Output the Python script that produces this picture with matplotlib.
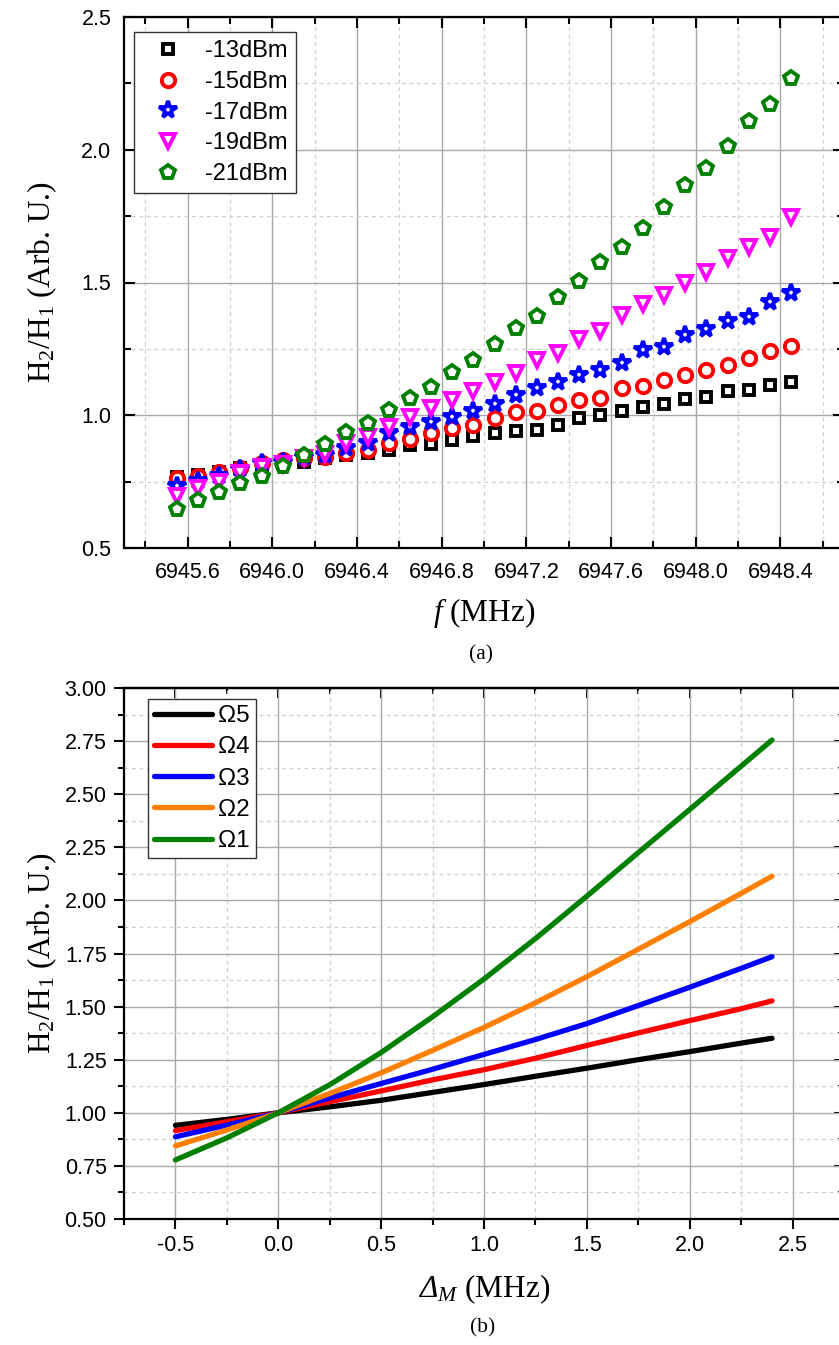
import matplotlib
matplotlib.use("Agg")
import matplotlib.pyplot as plt
from matplotlib.ticker import MultipleLocator, FormatStrFormatter

plt.rcParams['font.family'] = ['Liberation Sans', 'DejaVu Sans']
plt.rcParams['axes.unicode_minus'] = False
plt.rcParams['mathtext.fontset'] = 'custom'
plt.rcParams['mathtext.rm'] = 'Liberation Serif'
plt.rcParams['mathtext.it'] = 'Liberation Serif:italic'
plt.rcParams['mathtext.bf'] = 'Liberation Serif:bold'
plt.rcParams['mathtext.cal'] = 'Liberation Serif:italic'

# ---------------- data (a) ----------------
freq = [6945.55, 6945.65, 6945.75, 6945.85, 6945.95, 6946.05, 6946.15, 6946.25, 6946.35, 6946.45,
        6946.55, 6946.65, 6946.75, 6946.85, 6946.95, 6947.05, 6947.15, 6947.25, 6947.35, 6947.45,
        6947.55, 6947.65, 6947.75, 6947.85, 6947.95, 6948.05, 6948.15, 6948.25, 6948.35, 6948.45]
p13 = [0.767, 0.775, 0.786, 0.801, 0.812, 0.820, 0.824, 0.839, 0.850, 0.858,
       0.869, 0.888, 0.893, 0.907, 0.920, 0.933, 0.942, 0.944, 0.965, 0.990,
       1.000, 1.015, 1.031, 1.042, 1.061, 1.069, 1.091, 1.095, 1.114, 1.125]
p15 = [0.764, 0.771, 0.786, 0.801, 0.820, 0.831, 0.839, 0.843, 0.858, 0.869,
       0.895, 0.912, 0.935, 0.952, 0.965, 0.990, 1.012, 1.016, 1.037, 1.057,
       1.065, 1.101, 1.110, 1.133, 1.152, 1.170, 1.189, 1.216, 1.242, 1.261]
p17 = [0.734, 0.752, 0.771, 0.798, 0.820, 0.824, 0.843, 0.850, 0.877, 0.895,
       0.933, 0.956, 0.975, 0.995, 1.015, 1.042, 1.078, 1.101, 1.125, 1.153,
       1.172, 1.198, 1.246, 1.257, 1.302, 1.325, 1.355, 1.370, 1.427, 1.460]
p19 = [0.696, 0.726, 0.749, 0.782, 0.805, 0.816, 0.840, 0.855, 0.897, 0.918,
       0.956, 0.993, 1.027, 1.057, 1.093, 1.125, 1.159, 1.208, 1.234, 1.287,
       1.317, 1.378, 1.419, 1.453, 1.498, 1.540, 1.592, 1.634, 1.671, 1.747]
p21 = [0.647, 0.681, 0.711, 0.745, 0.771, 0.809, 0.850, 0.892, 0.937, 0.971,
       1.020, 1.065, 1.106, 1.163, 1.208, 1.268, 1.329, 1.374, 1.445, 1.506,
       1.577, 1.634, 1.705, 1.784, 1.867, 1.931, 2.014, 2.108, 2.172, 2.270]
labels_a = ['-13dBm', '-15dBm', '-17dBm', '-19dBm', '-21dBm']

# ---------------- data (b) ----------------
delta = [-0.5, -0.25, 0.0, 0.25, 0.5, 0.75, 1.0, 1.25, 1.5, 1.75, 2.0, 2.25, 2.4]
om5 = [0.941, 0.969, 1.000, 1.028, 1.059, 1.096, 1.133, 1.172, 1.210, 1.250, 1.288, 1.328, 1.351]
om4 = [0.916, 0.958, 1.000, 1.052, 1.103, 1.155, 1.203, 1.257, 1.317, 1.376, 1.434, 1.490, 1.527]
om3 = [0.887, 0.942, 1.000, 1.070, 1.138, 1.205, 1.275, 1.345, 1.420, 1.505, 1.591, 1.680, 1.735]
om2 = [0.844, 0.919, 1.000, 1.091, 1.188, 1.294, 1.402, 1.518, 1.641, 1.770, 1.900, 2.033, 2.114]
om1 = [0.778, 0.882, 1.000, 1.132, 1.284, 1.452, 1.630, 1.820, 2.020, 2.225, 2.428, 2.632, 2.755]
labels_b = ['Ω5', 'Ω4', 'Ω3', 'Ω2', 'Ω1']

W, H = 839, 1345
fig = plt.figure(figsize=(W / 100, H / 100), dpi=100)

L, R = 124, 844
ax1 = fig.add_axes([L / W, 1 - 548 / H, (R - L) / W, (548 - 17) / H])
ax2 = fig.add_axes([L / W, 1 - 1219 / H, (R - L) / W, (1219 - 688) / H])

tick_fs = 15.5
label_font = {'family': 'Liberation Serif', 'size': 22.5}

def base_style(ax):
    for s in ax.spines.values():
        s.set_linewidth(1.6)
    ax.grid(True, which='major', color='#a8a8a8', linewidth=1.0, linestyle='-')
    ax.grid(True, which='minor', color='#cfcfcf', linewidth=0.9, linestyle=(0, (3, 3)))
    ax.set_axisbelow(True)

# ---------------- panel (a) ----------------
marker_cfg = [
    ('s', 'black', 7.6),
    ('o', 'red', 9.6),
    ('*', 'blue', 13.0),
    ('v', '#ff00ff', 10.0),
    ('p', 'green', 10.6),
]
for ys, lab, (m, c, ms) in zip([p13, p15, p17, p19, p21], labels_a, marker_cfg):
    ax1.plot(freq, ys, linestyle='none', marker=m, markersize=ms,
             markerfacecolor='white', markeredgecolor=c, markeredgewidth=2.8,
             label=lab)

ax1.set_xlim(6945.3, 6948.7)
ax1.set_ylim(0.5, 2.5)
ax1.xaxis.set_major_locator(MultipleLocator(0.4))
ax1.xaxis.set_minor_locator(MultipleLocator(0.2))
ax1.yaxis.set_major_locator(MultipleLocator(0.5))
ax1.yaxis.set_minor_locator(MultipleLocator(0.25))
ax1.xaxis.set_major_formatter(FormatStrFormatter('%.1f'))
ax1.yaxis.set_major_formatter(FormatStrFormatter('%.1f'))
base_style(ax1)
ax1.tick_params(which='both', direction='in', top=True, right=True, width=1.5,
                labelsize=tick_fs)
ax1.tick_params(which='major', length=8)
ax1.tick_params(which='minor', length=5)
ax1.tick_params(axis='x', which='major', pad=10)
ax1.tick_params(axis='y', which='major', pad=9)

ax1.set_xlabel(r'$f$ (MHz)', fontdict=label_font)
ax1.set_ylabel(r'H$_2$/H$_1$ (Arb. U.)', fontdict=label_font)
ax1.xaxis.set_label_coords(0.5, -0.09)
ax1.yaxis.set_label_coords(-0.09, 0.5)

leg1 = ax1.legend(loc='upper left', bbox_to_anchor=(134 / W, 1 - 32 / H),
                  bbox_transform=fig.transFigure, fontsize=17, numpoints=1,
                  frameon=True, fancybox=False, framealpha=1, edgecolor='#333333',
                  borderaxespad=0, borderpad=0.35, labelspacing=0.37,
                  handletextpad=0.45, handlelength=2.2)
leg1.get_frame().set_linewidth(1.0)

# ---------------- panel (b) ----------------
line_colors = ['black', 'red', 'blue', '#ff8000', 'green']
for ys, lab, c in zip([om5, om4, om3, om2, om1], labels_b, line_colors):
    ax2.plot(delta, ys, color=c, linewidth=3.8, solid_capstyle='round',
             solid_joinstyle='round', label=lab)

ax2.set_xlim(-0.75, 2.75)
ax2.set_ylim(0.5, 3.0)
ax2.xaxis.set_major_locator(MultipleLocator(0.5))
ax2.xaxis.set_minor_locator(MultipleLocator(0.25))
ax2.yaxis.set_major_locator(MultipleLocator(0.25))
ax2.yaxis.set_minor_locator(MultipleLocator(0.125))
ax2.xaxis.set_major_formatter(FormatStrFormatter('%.1f'))
ax2.yaxis.set_major_formatter(FormatStrFormatter('%.2f'))
base_style(ax2)
ax2.tick_params(which='both', direction='out', top=False, right=False, width=1.5,
                labelsize=tick_fs)
ax2.tick_params(which='major', length=7.5)
ax2.tick_params(which='minor', length=4)
ax2.tick_params(axis='x', which='major', pad=4)
ax2.tick_params(axis='y', which='major', pad=5)
# inward ticks on top and right
topx = ax2.secondary_xaxis('top')
topx.xaxis.set_major_locator(MultipleLocator(0.5))
topx.xaxis.set_minor_locator(MultipleLocator(0.25))
topx.tick_params(which='both', direction='in', labeltop=False, width=1.5)
topx.tick_params(which='major', length=7.5)
topx.tick_params(which='minor', length=4)
topx.spines['top'].set_linewidth(1.6)
righty = ax2.secondary_yaxis('right')
righty.yaxis.set_major_locator(MultipleLocator(0.25))
righty.yaxis.set_minor_locator(MultipleLocator(0.125))
righty.tick_params(which='both', direction='in', labelright=False, width=1.5)
righty.tick_params(which='major', length=7.5)
righty.tick_params(which='minor', length=4)

ax2.set_xlabel(r'$\mathcal{\Delta}_{M}$ (MHz)', fontdict=label_font)
ax2.set_ylabel(r'H$_2$/H$_1$ (Arb. U.)', fontdict=label_font)
ax2.xaxis.set_label_coords(0.5, -0.10)
ax2.yaxis.set_label_coords(-0.09, 0.5)

leg2 = ax2.legend(loc='upper left', bbox_to_anchor=(148 / W, 1 - 699 / H),
                  bbox_transform=fig.transFigure, fontsize=17.5,
                  frameon=True, fancybox=False, framealpha=1, edgecolor='#333333',
                  borderaxespad=0, borderpad=0.25, labelspacing=0.38,
                  handletextpad=0.25, handlelength=2.4)
leg2.get_frame().set_linewidth(1.0)

fig.text(481 / W, 1 - 655 / H, '(a)', ha='center', va='center',
         family='Liberation Serif', fontsize=15.5)
fig.text(483 / W, 1 - 1328 / H, '(b)', ha='center', va='center',
         family='Liberation Serif', fontsize=15.5)

fig.savefig('out.png', dpi=100)
